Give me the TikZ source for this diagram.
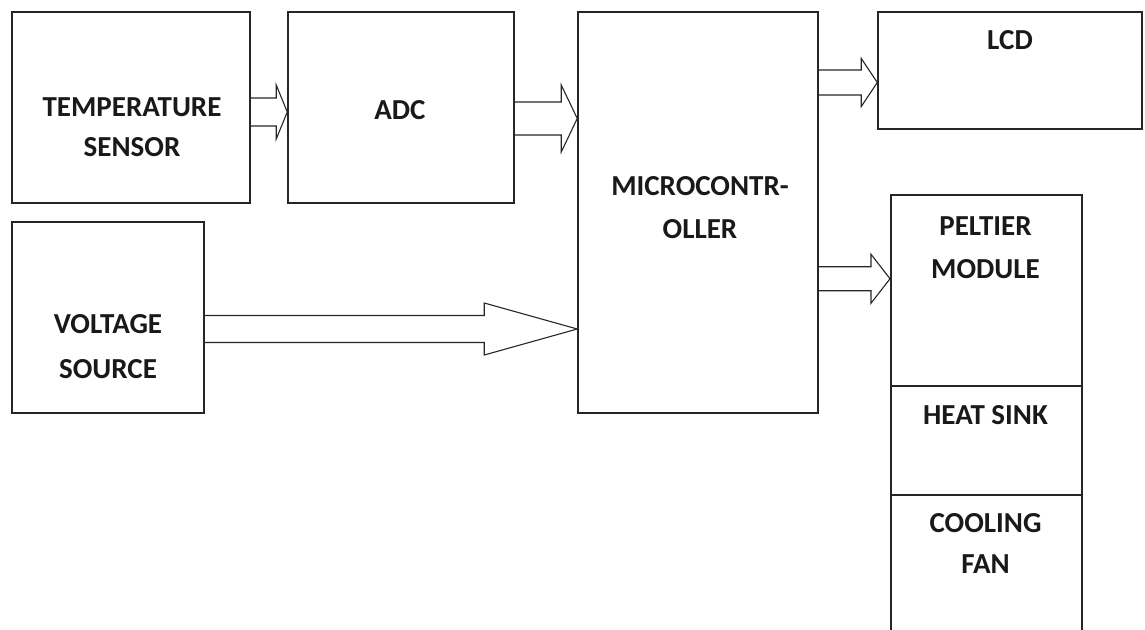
\documentclass[tikz,border=0pt]{standalone}
\usepackage{fontspec}
\setmainfont{Carlito}
\usetikzlibrary{positioning, calc}

\begin{document}
\begin{tikzpicture}[
  x=1pt, y=-1pt,
  box/.style={rectangle, draw=black!85, line width=1.5pt, inner sep=0pt},
  lbl/.style={align=center, inner sep=0pt, text=black!90,
              font=\fontsize{29}{#1}\selectfont\bfseries},
  lbl/.default=43,
  blockarrow/.style args={#1/#2/#3}{draw=black!85, line width=1.1pt,
    to path={($(\tikztostart)+(0,-#1)$) -- ($(\tikztotarget)+(-#3,-#1)$)
      -- ($(\tikztotarget)+(-#3,-#2)$) -- (\tikztotarget)
      -- ($(\tikztotarget)+(-#3,#2)$) -- ($(\tikztotarget)+(-#3,#1)$)
      -- ($(\tikztostart)+(0,#1)$)}}
]
\useasboundingbox (0,0) rectangle (1145,629);

% boxes
\node[box, minimum width=238pt, minimum height=191pt] (temp) at (131,107.5) {};
\node[box, minimum width=226pt, minimum height=191pt, right=36.5pt of temp] (adc) {};
\node[box, minimum width=192pt, minimum height=191pt,
      below=17.5pt of temp.south west, anchor=north west] (volt) {};
\node[box, minimum width=240pt, minimum height=401pt,
      right=62.5pt of adc.north east, anchor=north west] (mcu) {};
\node[box, minimum width=264pt, minimum height=117pt,
      right=58.5pt of mcu.north east, anchor=north west] (lcd) {};
\node[box, minimum width=191pt, minimum height=191pt, anchor=north west] (pelt) at (890,194) {};
\node[box, minimum width=191pt, minimum height=109pt, below=-1.5pt of pelt] (heat) {};
\node[box, minimum width=191pt, minimum height=150pt, below=-1.5pt of heat] (fan) {};

% labels
\node[lbl=40] (tempL) at (132,127.5) {TEMPERATURE\\SENSOR};
\node[lbl]    (adcL)  at (400,110)   {ADC};
\node[lbl=45] (voltL) at (108,346.5) {VOLTAGE\\SOURCE};
\node[lbl]    (mcuL)  at (700,208)   {MICROCONTR-\\OLLER};
\node[lbl]    (lcdL)  at (1010,40)   {LCD};
\node[lbl]    (peltL) at (985.5,248) {PELTIER\\MODULE};
\node[lbl]    (heatL) at (985.5,415) {HEAT SINK};
\node[lbl=41] (fanL)  at (985.5,543) {COOLING\\FAN};

% arrows
\coordinate (ta) at ($(temp.east)+(0,4.5)$);
\coordinate (am) at ($(adc.east)+(0,11)$);
\coordinate (vm) at ($(volt.east)+(0,11.5)$);
\coordinate (ml) at ($(mcu.east |- lcd.west)+(0,12)$);
\coordinate (mp) at ($(mcu.east |- pelt.west)+(0,-11.5)$);

\draw[blockarrow=14/27/11]     (ta) to (adc.west |- ta);
\draw[blockarrow=16.5/33.5/16] (am) to (mcu.west |- am);
\draw[blockarrow=13.5/26/93]   (vm) to (mcu.west |- vm);
\draw[blockarrow=12.5/24/16]   (ml) to (lcd.west |- ml);
\draw[blockarrow=12/24.5/19]   (mp) to (pelt.west |- mp);

\end{tikzpicture}
\end{document}
